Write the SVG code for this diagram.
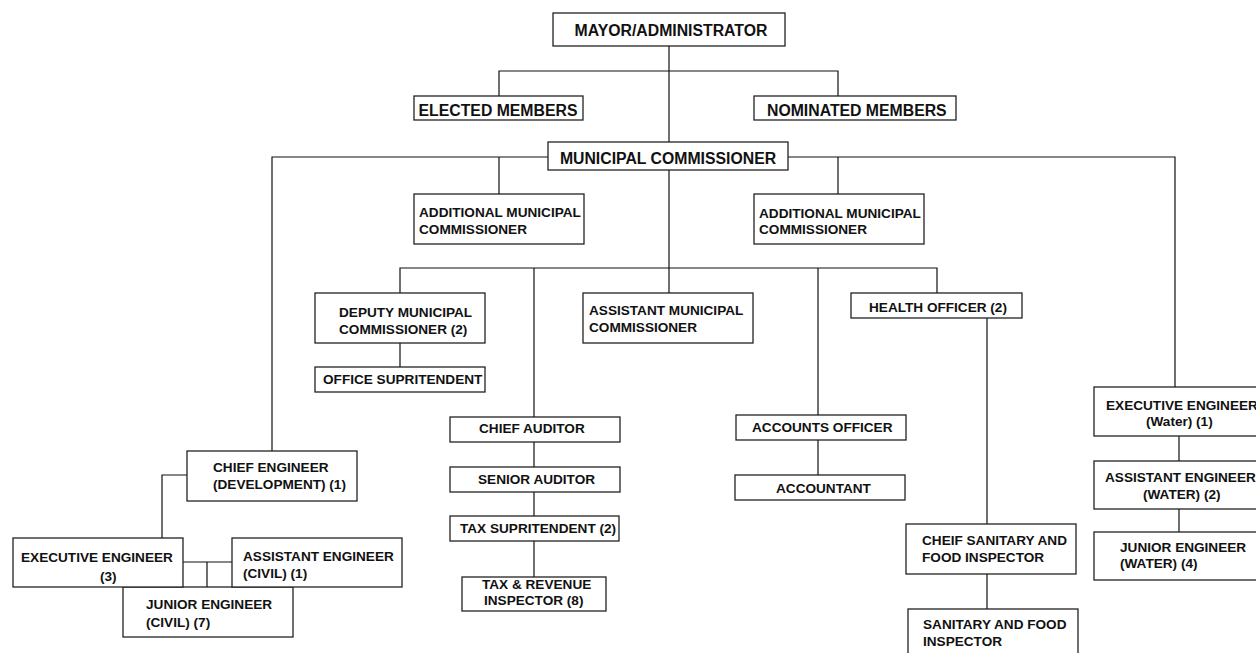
<svg xmlns="http://www.w3.org/2000/svg" width="1256" height="653" viewBox="0 0 1256 653">
<style>
.b{fill:#fff;stroke:#222;stroke-width:1.3}
.c{fill:none;stroke:#111;stroke-width:1.2}
text{font-family:"Liberation Sans",Arial,sans-serif;font-weight:bold;font-size:13.6px;fill:#111}
.L{font-size:15.8px}
.m{text-anchor:middle}
</style>
<rect width="1256" height="653" fill="#fff"/>
<g id="connectors">
<path class="c" d="M669,46V142M499,96V71H838V96M548,157H272V451M788,157H1175V387M499,157V194M838,157V194M669,170V293M400,293V268H937V293M534,268V417M818,268V415M400,343V367M534,442V467M534,492V516M534,541V577M818,440V475M987,318V524M987,574V609M187,475H162V538M183,562H232M207,562V587M1179,436V461M1179,509V532"/>
</g>
<g id="mayor"><rect class="b" x="553" y="13" width="232" height="33"/><text class="L m" x="671" y="35.7">MAYOR/ADMINISTRATOR</text></g>
<g id="elected"><rect class="b" x="414" y="96" width="169" height="24"/><text class="L m" x="498" y="115.6">ELECTED MEMBERS</text></g>
<g id="nominated"><rect class="b" x="754" y="96" width="202" height="24"/><text class="L" x="767" y="115.6">NOMINATED MEMBERS</text></g>
<g id="commissioner"><rect class="b" x="548" y="142" width="240" height="28"/><text class="L m" x="668" y="163.6">MUNICIPAL COMMISSIONER</text></g>
<g id="addl1"><rect class="b" x="414" y="194" width="170" height="50"/><text x="419" y="217.2">ADDITIONAL MUNICIPAL</text><text x="419" y="233.9">COMMISSIONER</text></g>
<g id="addl2"><rect class="b" x="754" y="194" width="170" height="50"/><text x="759" y="218.2">ADDITIONAL MUNICIPAL</text><text x="759" y="234.2">COMMISSIONER</text></g>
<g id="deputy"><rect class="b" x="315" y="293" width="170" height="50"/><text x="339" y="316.6">DEPUTY MUNICIPAL</text><text x="339" y="333.9">COMMISSIONER (2)</text></g>
<g id="officesup"><rect class="b" x="315" y="367" width="170" height="25"/><text x="323" y="384.2">OFFICE SUPRITENDENT</text></g>
<g id="asstmc"><rect class="b" x="583" y="293" width="170" height="50"/><text x="589" y="314.9">ASSISTANT MUNICIPAL</text><text x="589" y="331.6">COMMISSIONER</text></g>
<g id="health"><rect class="b" x="851" y="293" width="171" height="25"/><text x="869" y="311.5">HEALTH OFFICER (2)</text></g>
<g id="chiefauditor"><rect class="b" x="450" y="417" width="170" height="25"/><text x="479" y="432.9">CHIEF AUDITOR</text></g>
<g id="seniorauditor"><rect class="b" x="450" y="467" width="170" height="25"/><text x="478" y="483.9">SENIOR AUDITOR</text></g>
<g id="taxsup"><rect class="b" x="450" y="516" width="169" height="25"/><text x="460" y="532.9">TAX SUPRITENDENT (2)</text></g>
<g id="taxrev"><rect class="b" x="462" y="577" width="144" height="34"/><text x="482" y="589.2">TAX &amp; REVENUE</text><text x="484" y="604.9">INSPECTOR (8)</text></g>
<g id="accountsofficer"><rect class="b" x="736" y="415" width="170" height="25"/><text x="752" y="431.6">ACCOUNTS OFFICER</text></g>
<g id="accountant"><rect class="b" x="735" y="475" width="170" height="25"/><text x="776" y="492.9">ACCOUNTANT</text></g>
<g id="chiefsanitary"><rect class="b" x="906" y="524" width="170" height="50"/><text x="922" y="544.9">CHEIF SANITARY AND</text><text x="922" y="561.6">FOOD INSPECTOR</text></g>
<g id="sanitary"><rect class="b" x="908" y="609" width="170" height="60"/><text x="923" y="629.2">SANITARY AND FOOD</text><text x="923" y="645.6">INSPECTOR</text></g>
<g id="chiefengineer"><rect class="b" x="187" y="451" width="170" height="50"/><text x="213" y="472.2">CHIEF ENGINEER</text><text x="213" y="488.9">(DEVELOPMENT) (1)</text></g>
<g id="jecivil"><rect class="b" x="123" y="587" width="170" height="50"/><text x="146" y="608.9">JUNIOR ENGINEER</text><text x="146" y="627.2">(CIVIL) (7)</text></g>
<g id="execcivil"><rect class="b" x="13" y="538" width="170" height="49"/><text x="21" y="562.2">EXECUTIVE ENGINEER</text><text class="m" x="108.3" y="580.6">(3)</text></g>
<g id="asstcivil"><rect class="b" x="232" y="538" width="170" height="49"/><text x="243" y="560.6">ASSISTANT ENGINEER</text><text x="243" y="578.2">(CIVIL) (1)</text></g>
<g id="execwater"><rect class="b" x="1094" y="387" width="170" height="49"/><text x="1106" y="409.9">EXECUTIVE ENGINEER</text><text x="1146" y="425.9">(Water) (1)</text></g>
<g id="asstwater"><rect class="b" x="1094" y="461" width="170" height="48"/><text x="1105" y="481.6">ASSISTANT ENGINEER</text><text x="1143" y="499.2">(WATER) (2)</text></g>
<g id="jewater"><rect class="b" x="1094" y="532" width="170" height="48"/><text x="1120" y="551.6">JUNIOR ENGINEER</text><text x="1120" y="568.2">(WATER) (4)</text></g>
</svg>
